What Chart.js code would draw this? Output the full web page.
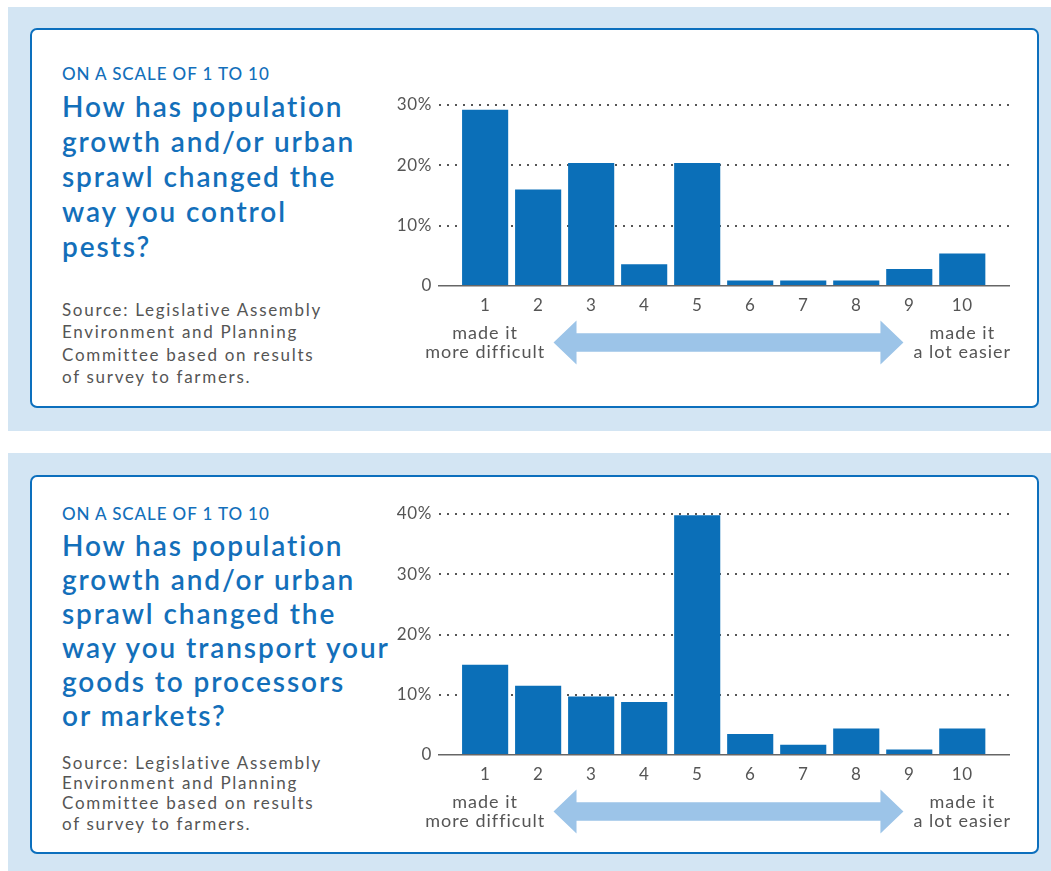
<!DOCTYPE html>
<html>
<head>
<meta charset="utf-8">
<script src="https://cdn.jsdelivr.net/npm/chart.js@4.4.1/dist/chart.umd.min.js"></script>
<style>
  body { margin: 0; width: 1051px; height: 871px; background: #fff; position: relative; overflow: hidden; font-family: Lato, "Noto Sans", sans-serif; }
  .panel { position: absolute; left: 8px; width: 1043px; background: #d3e5f3; }
  .card { position: absolute; left: 30px; width: 1009px; box-sizing: border-box; border: 2.5px solid #0c6fbd; border-radius: 7px; background: #fff; }
  .txt { position: absolute; left: 62px; white-space: nowrap; }
  .kicker { font-size: 17px; line-height: 18px; font-weight: 500; color: #136fba; letter-spacing: 0.9px; }
  .title { font-size: 28px; font-weight: 600; color: #136fba; letter-spacing: 1.9px; }
  .source { font-size: 17px; color: #555; letter-spacing: 1.7px; }
  canvas { position: absolute; left: 380px; }
</style>
</head>
<body>
<div class="panel" style="top:7px;height:424px"></div>
<div class="panel" style="top:453px;height:418px"></div>
<div class="card" style="top:28px;height:380px"></div>
<div class="card" style="top:475px;height:379px"></div>

<div class="txt kicker" style="top:65px">ON A SCALE OF 1 TO 10</div>
<div class="txt title" style="top:89px;line-height:35px">How has population<br>growth and/or urban<br>sprawl changed the<br>way you control<br>pests?</div>
<div class="txt source" style="top:299px;line-height:22.3px">Source: Legislative Assembly<br>Environment and Planning<br>Committee based on results<br>of survey to farmers.</div>

<div class="txt kicker" style="top:505px">ON A SCALE OF 1 TO 10</div>
<div class="txt title" style="top:527.5px;line-height:34px">How has population<br>growth and/or urban<br>sprawl changed the<br>way you transport your<br>goods to processors<br>or markets?</div>
<div class="txt source" style="top:753px;line-height:20.2px">Source: Legislative Assembly<br>Environment and Planning<br>Committee based on results<br>of survey to farmers.</div>

<canvas id="pests" width="630" height="291" style="top:85px"></canvas>
<canvas id="transport" width="630" height="351" style="top:494px"></canvas>

<script>
// Survey answers, share of farmers per score (%).
const scores = [1, 2, 3, 4, 5, 6, 7, 8, 9, 10];
const pestsShares = [29.2, 16, 20.4, 3.6, 20.4, 0.9, 0.9, 0.9, 2.8, 5.4];
const transportShares = [15, 11.5, 9.7, 8.8, 39.8, 3.5, 1.7, 4.4, 0.9, 4.4];
const pestsYMax = 30;
const transportYMax = 40;
const leftEndLabel = ['made it', 'more difficult'];
const rightEndLabel = ['made it', 'a lot easier'];

const FONT = 'Lato, "Noto Sans", sans-serif';
Chart.defaults.font.family = FONT;
Chart.defaults.color = '#555';

// double arrow + end captions under the x axis
const scaleArrow = {
  id: 'scaleArrow',
  beforeDraw(chart) {
    chart.ctx.letterSpacing = '0.6px';
  },
  afterDraw(chart) {
    const ctx = chart.ctx;
    const x = chart.scales.x;
    const base = chart.chartArea.bottom;
    const cy = base + 56.5;
    const xl = x.getPixelForValue(2.29);
    const xr = x.getPixelForValue(8.89);
    const head = 23, hh = 22, sh = 9.3;
    ctx.save();
    ctx.fillStyle = '#9cc4e8';
    ctx.beginPath();
    ctx.moveTo(xl, cy);
    ctx.lineTo(xl + head, cy - hh);
    ctx.lineTo(xl + head, cy - sh);
    ctx.lineTo(xr - head, cy - sh);
    ctx.lineTo(xr - head, cy - hh);
    ctx.lineTo(xr, cy);
    ctx.lineTo(xr - head, cy + hh);
    ctx.lineTo(xr - head, cy + sh);
    ctx.lineTo(xl + head, cy + sh);
    ctx.lineTo(xl + head, cy + hh);
    ctx.closePath();
    ctx.fill();

    ctx.fillStyle = '#555';
    ctx.font = '18px ' + FONT;
    ctx.letterSpacing = '1px';
    ctx.textAlign = 'center';
    ctx.textBaseline = 'middle';
    const x1 = x.getPixelForValue(scores[0]);
    const x10 = x.getPixelForValue(scores[scores.length - 1]);
    leftEndLabel.forEach((s, i) => ctx.fillText(s, x1, base + 47.5 + i * 19));
    rightEndLabel.forEach((s, i) => ctx.fillText(s, x10, base + 47.5 + i * 19));
    ctx.restore();
  }
};

function makeChart(id, values, yMax) {
  return new Chart(document.getElementById(id), {
    type: 'bar',
    data: {
      datasets: [{
        data: scores.map((s, i) => ({x: s, y: values[i]})),
        backgroundColor: '#0b6fb8',
        borderWidth: 0,
        barPercentage: 0.87,
        categoryPercentage: 1
      }]
    },
    plugins: [scaleArrow],
    options: {
      responsive: false,
      animation: false,
      layout: { padding: { top: 20, right: 0, left: 0, bottom: 0 } },
      plugins: { legend: { display: false }, tooltip: { enabled: false } },
      scales: {
        x: {
          type: 'linear',
          offset: false,
          min: 0.13,
          max: 10.9,
          afterBuildTicks: s => { s.ticks = scores.map(v => ({value: v})); },
          afterFit: s => { s.height = 90; },
          grid: { display: false, drawTicks: false },
          border: { display: true, color: '#666', width: 1.5 },
          ticks: { font: {size: 17}, color: '#555', padding: 9, autoSkip: false, maxRotation: 0 }
        },
        y: {
          min: 0,
          max: yMax,
          afterFit: s => { s.width = 59; },
          grid: {
            color: c => c.tick && c.tick.value === 0 ? 'rgba(0,0,0,0)' : '#555',
            lineWidth: 2,
            drawTicks: false
          },
          border: { display: false, dash: [2, 6] },
          ticks: {
            stepSize: 10,
            padding: 7,
            font: {size: 17},
            color: '#555',
            callback: v => v === 0 ? '0' : v + '%'
          }
        }
      }
    }
  });
}

makeChart('pests', pestsShares, pestsYMax);
makeChart('transport', transportShares, transportYMax);
</script>
</body>
</html>
